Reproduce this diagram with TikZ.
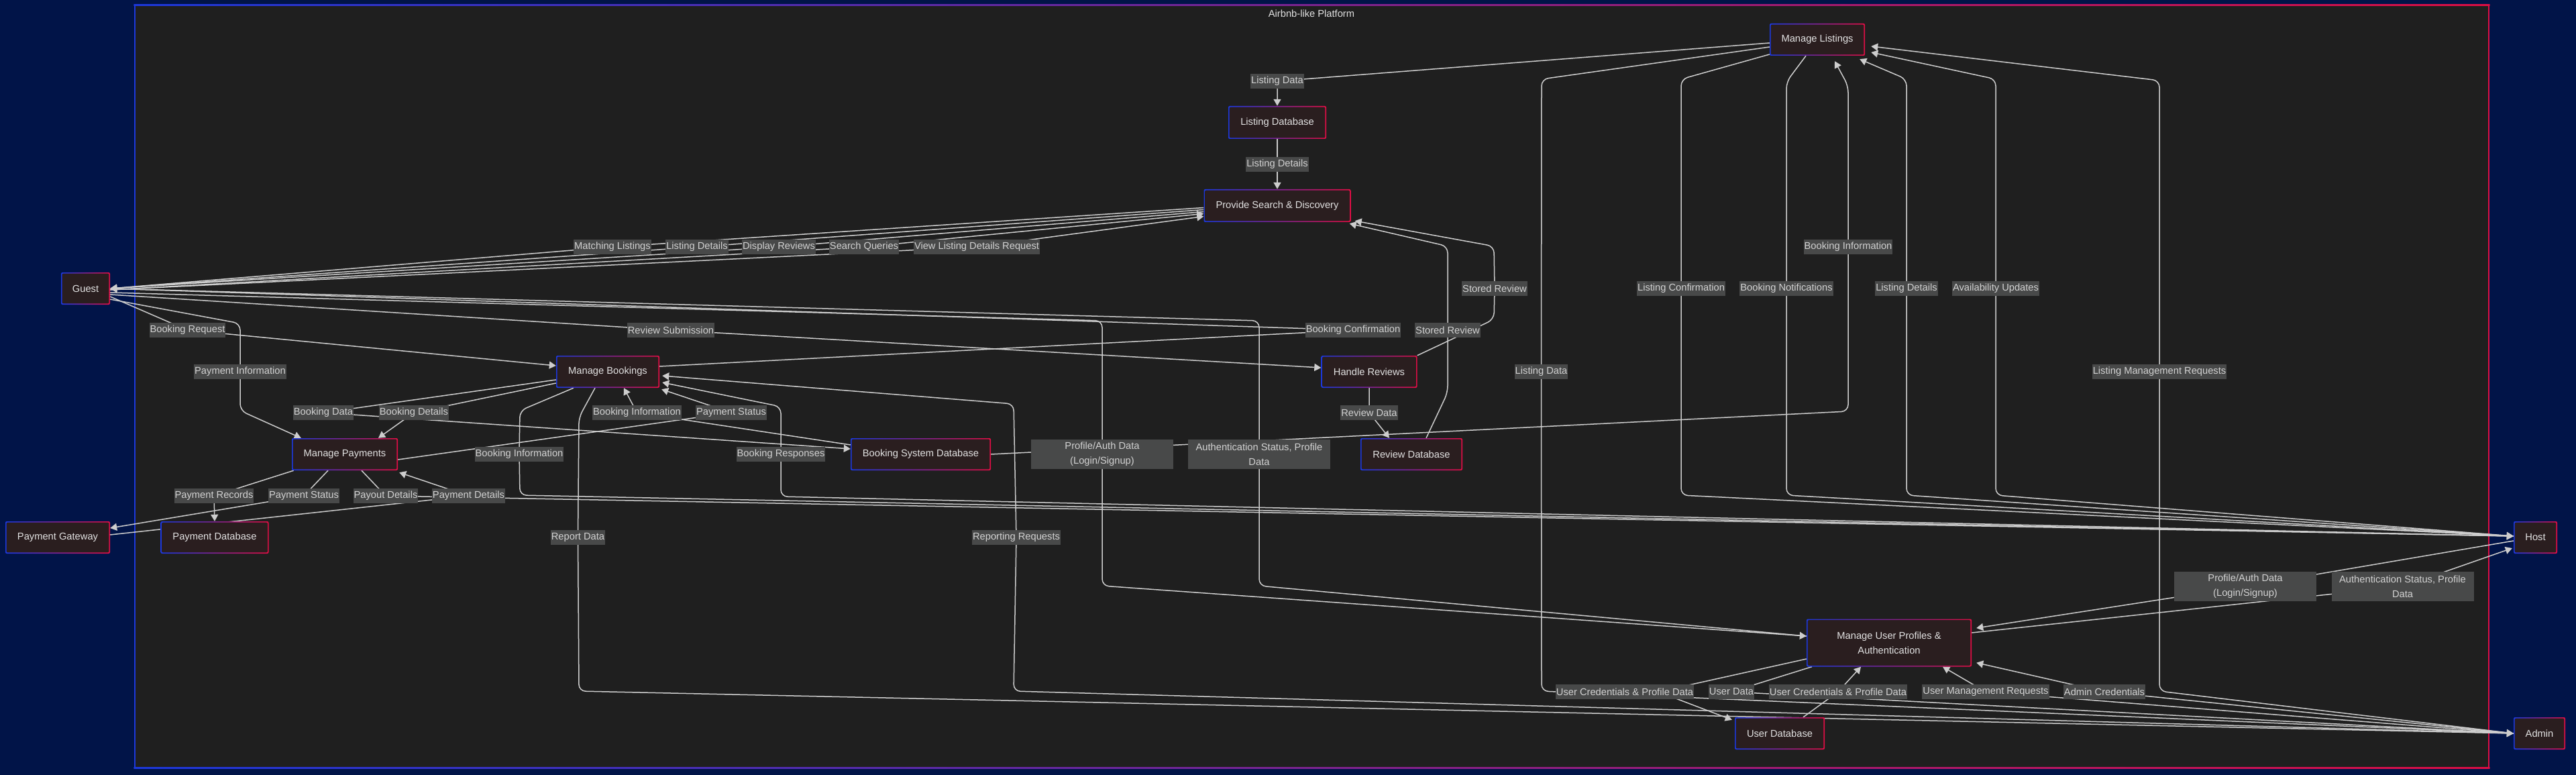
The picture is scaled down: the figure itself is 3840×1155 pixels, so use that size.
\documentclass[tikz,border=0pt]{standalone}
\usepackage{fontspec}
\setmainfont{Liberation Sans}
\usetikzlibrary{arrows.meta,calc}
\definecolor{navy}{RGB}{1,20,72}
\definecolor{clusterfill}{RGB}{31,31,31}
\definecolor{nodefill}{RGB}{42,30,31}
\definecolor{lblfill}{RGB}{72,73,73}
\definecolor{lbltext}{RGB}{210,210,210}
\definecolor{nodetext}{RGB}{226,226,226}
\definecolor{edgec}{RGB}{205,205,205}
\definecolor{nblue}{RGB}{28,56,220}
\definecolor{nred}{RGB}{222,14,68}
\pgfdeclarelayer{bg}
\pgfdeclarelayer{edges}
\pgfsetlayers{bg,edges,main}
\begin{document}
\begin{tikzpicture}[x=1pt,y=-1pt,
  every node/.style={font=\fontsize{14.7}{22}\selectfont},
  proc/.style={rounded corners=2pt, inner sep=0pt, align=center, text=nodetext,
    path picture={
      \shade[left color=nblue, right color=nred] (path picture bounding box.south west) rectangle (path picture bounding box.north east);
      \fill[nodefill] ([shift={(1.6pt,1.6pt)}]path picture bounding box.south west) rectangle ([shift={(-1.6pt,-1.6pt)}]path picture bounding box.north east);
    }},
  lbl/.style={fill=lblfill, text=lbltext, inner xsep=1pt, inner ysep=0pt, minimum height=22pt},
  lbltwo/.style={lbl, align=center, minimum width=212pt, minimum height=44pt},
  flow/.style={draw=edgec, line width=1.5pt, rounded corners=10pt, -{Triangle[length=10pt,width=11pt]}}
]
\useasboundingbox (0,0) rectangle (3840,1155);
\begin{pgfonlayer}{bg}
  \fill[navy] (0,0) rectangle (3840,1155);
  \node[fill=clusterfill, inner sep=0pt, minimum width=3509pt, minimum height=1136pt] (cluster) at (1955.5,576) {};
  \shade[left color=nblue, right color=nred] ($(cluster.north west)+(-1.2,-1.2)$) rectangle ($(cluster.north east)+(1.2,1.2)$);
  \shade[left color=nblue, right color=nred] ($(cluster.south west)+(-1.2,-1.2)$) rectangle ($(cluster.south east)+(1.2,1.2)$);
  \fill[nblue] ($(cluster.north west)+(-1.2,0)$) rectangle ($(cluster.south west)+(1.2,0)$);
  \fill[nred] ($(cluster.north east)+(-1.2,0)$) rectangle ($(cluster.south east)+(1.2,0)$);
\end{pgfonlayer}
\node[text=nodetext] (title) at (1955,20) {Airbnb-like Platform};

% process / store / external nodes
\node[proc, minimum width=73pt, minimum height=48pt] (guest) at (127.5,430) {Guest};
\node[proc, minimum width=156pt, minimum height=48pt] (pg) at (86,801) {Payment Gateway};
\node[proc, minimum width=161pt, minimum height=48pt] (pdb) at (320,801) {Payment Database};
\node[proc, minimum width=158pt, minimum height=48pt] (mp) at (514,677) {Manage Payments};
\node[proc, minimum width=154pt, minimum height=48pt] (mb) at (906,554) {Manage Bookings};
\node[proc, minimum width=209pt, minimum height=48pt] (bsd) at (1372.5,677) {Booking System Database};
\node[proc, minimum width=146pt, minimum height=49pt] (ldb) at (1904,182.5) {Listing Database};
\node[proc, minimum width=219pt, minimum height=49pt] (sd) at (1904,306.5) {Provide Search \& Discovery};
\node[proc, minimum width=143pt, minimum height=48pt] (hr) at (2041,554) {Handle Reviews};
\node[proc, minimum width=152pt, minimum height=48pt] (rdb) at (2104,677) {Review Database};
\node[proc, minimum width=142pt, minimum height=48pt] (ml) at (2709,59) {Manage Listings};
\node[proc, minimum width=246pt, minimum height=71pt] (mup) at (2816,958) {Manage User Profiles \&\\Authentication};
\node[proc, minimum width=134pt, minimum height=48pt] (udb) at (2653,1093) {User Database};
\node[proc, minimum width=65pt, minimum height=48pt] (host) at (3779.5,801) {Host};
\node[proc, minimum width=77pt, minimum height=48pt] (admin) at (3785.5,1093) {Admin};

% edge labels
\node[lbl] (lld1) at (1904,121) {Listing Data};
\node[lbl] (llde) at (1904,245) {Listing Details};
\node[lbl] (lml) at (913,368) {Matching Listings};
\node[lbl] (lldg) at (1039,368) {Listing Details};
\node[lbl] (ldr) at (1161,368) {Display Reviews};
\node[lbl] (lsq) at (1288,368) {Search Queries};
\node[lbl] (lvl) at (1456,368) {View Listing Details Request};
\node[lbl] (lbreq) at (279.5,492) {Booking Request};
\node[lbl] (lrs) at (1000,492) {Review Submission};
\node[lbl] (lbc) at (2017,492) {Booking Confirmation};
\node[lbl] (lsr2) at (2158,492) {Stored Review};
\node[lbl] (lsr1) at (2228,430) {Stored Review};
\node[lbl] (llc) at (2506,430) {Listing Confirmation};
\node[lbl] (lbn) at (2663,430) {Booking Notifications};
\node[lbl] (lldh) at (2842,430) {Listing Details};
\node[lbl] (lau) at (2975,430) {Availability Updates};
\node[lbl] (lbi1) at (2755,368) {Booking Information};
\node[lbl] (lpi) at (358,554) {Payment Information};
\node[lbl] (lld2) at (2297.5,554) {Listing Data};
\node[lbl] (llmr) at (3219,554) {Listing Management Requests};
\node[lbl] (lbd) at (482,615) {Booking Data};
\node[lbl] (lbdt) at (617,615) {Booking Details};
\node[lbl] (lbi2) at (949.5,615) {Booking Information};
\node[lbl] (lps1) at (1090,615) {Payment Status};
\node[lbl] (lrd) at (2041,615) {Review Data};
\node[lbl] (lbi3) at (774,677) {Booking Information};
\node[lbl] (lbresp) at (1164,677) {Booking Responses};
\node[lbltwo] (lpa1) at (1643,677) {Profile/Auth Data\\(Login/Signup)};
\node[lbltwo] (las1) at (1877,677) {Authentication Status, Profile\\Data};
\node[lbl] (lpr) at (319,739) {Payment Records};
\node[lbl] (lps2) at (453,739) {Payment Status};
\node[lbl] (lpo) at (575,739) {Payout Details};
\node[lbl] (lpd) at (698.5,739) {Payment Details};
\node[lbl] (lrpd) at (861.5,801) {Report Data};
\node[lbl] (lrr) at (1515,801) {Reporting Requests};
\node[lbltwo] (lpa2) at (3347,874) {Profile/Auth Data\\(Login/Signup)};
\node[lbltwo] (las2) at (3581.5,874) {Authentication Status, Profile\\Data};
\node[lbl] (luc1) at (2422,1031) {User Credentials \& Profile Data};
\node[lbl] (lud) at (2581,1031) {User Data};
\node[lbl] (luc2) at (2740,1031) {User Credentials \& Profile Data};
\node[lbl] (lumr) at (2960,1031) {User Management Requests};
\node[lbl] (lac) at (3137,1031) {Admin Credentials};

\begin{pgfonlayer}{edges}
% listings
\draw[flow] ($(ml.west)+(0,5)$) -- (lld1.center) -- (ldb.north);
\draw[flow] (ldb.south) -- (llde.center) -- (sd.north);
% search <-> guest
\draw[flow] ($(sd.west)+(0,3)$) -- (lml.center) -- (guest.east);
\draw[flow] ($(sd.west)+(0,6)$) -- (lldg.center) -- (guest.east);
\draw[flow] ($(sd.west)+(0,9)$) -- (ldr.center) -- (guest.east);
\draw[flow] ($(guest.east)+(0,2)$) -- (lsq.center) -- ($(sd.west)+(0,12)$);
\draw[flow] ($(guest.east)+(0,2)$) -- (lvl.center) -- ($(sd.west)+(0,16)$);
% guest outgoing
\draw[flow] ($(guest.east)+(0,12)$) -- (lbreq.center) -- ($(mb.west)+(0,-9)$);
\draw[flow] ($(guest.east)+(0,16)$) -- (358,482) -- (358,612) -- ($(mp.north west)+(14,0)$);
\draw[flow] ($(guest.east)+(0,9)$) -- (lrs.center) -- ($(hr.west)+(0,-6)$);
\draw[flow] ($(mb.east)+(0,-8)$) -- (lbc.center) -- (guest.east);
\draw[flow] ($(guest.east)+(0,6)$) -- (1643,478) -- (lpa1.center) -- (1643,873) -- ($(mup.west)+(0,-10)$);
\draw[flow] ($(mup.west)+(0,-10)$) -- (1877,873) -- (las1.center) -- (1877,478) -- (guest.east);
% bookings
\draw[flow] ($(mb.west)+(0,12)$) -- (lbd.center) -- ($(bsd.west)+(0,-8)$);
\draw[flow] ($(mb.west)+(0,17)$) -- (lbdt.center) -- ($(mp.north)+(50,0)$);
\draw[flow] ($(mp.east)+(0,8)$) -- (lps1.center) -- ($(mb.south east)+(3,2)$);
\draw[flow] ($(bsd.west)+(0,-14)$) -- (lbi2.center) -- ($(mb.south)+(24,0)$);
\draw[flow] ($(mb.south)+(-51,0)$) -- (775,612) -- (lbi3.center) -- (775,738) -- ($(host.west)+(0,-2)$);
\draw[flow] ($(host.west)+(0,-2)$) -- (1164,740) -- (lbresp.center) -- (1164,606) -- ($(mb.east)+(4,16)$);
\draw[flow] ($(mb.south)+(-19,0)$) -- (863,622) -- (lrpd.center) -- (863,1030) -- (admin.west);
\draw[flow] (admin.west) -- (1511,1030) -- (lrr.center) -- (1511,602) -- ($(mb.east)+(4,6)$);
% payments
\draw[flow] ($(mp.south west)+(3,0)$) -- (lpr.center) -- (pdb.north);
\draw[flow] ($(mp.south)+(-25,0)$) -- (lps2.center) -- ($(pg.east)+(0,-14)$);
\draw[flow] ($(pg.east)+(0,-4)$) -- (lpd.center) -- ($(mp.south east)+(2,3)$);
\draw[flow] ($(mp.south)+(25,0)$) -- (lpo.center) -- ($(host.west)+(0,-2)$);
% listings <-> host / admin
\draw[flow] ($(ml.west)+(0,22)$) -- (2506,118) -- (llc.center) -- (2506,738) -- ($(host.west)+(0,-2)$);
\draw[flow] ($(ml.south)+(-17,0)$) -- (2663,122) -- (lbn.center) -- (2663,738) -- ($(host.west)+(0,-2)$);
\draw[flow] (bsd.east) -- (2755,613) -- (lbi1.center) -- (2755,128) -- ($(ml.south)+(26,8)$);
\draw[flow] ($(host.west)+(0,-2)$) -- (2842,738) -- (lldh.center) -- (2842,118) -- ($(ml.south east)+(-8,5)$);
\draw[flow] ($(host.west)+(0,-2)$) -- (2975,738) -- (lau.center) -- (2975,118) -- ($(ml.east)+(9,19)$);
\draw[flow] (admin.west) -- (3219,1030) -- (llmr.center) -- (3219,120) -- ($(ml.east)+(9,10)$);
\draw[flow] ($(ml.west)+(0,11)$) -- (2298,118) -- (lld2.center) -- (2298,1030) -- (admin.west);
% user profiles
\draw[flow] ($(host.west)+(0,5)$) -- (lpa2.center) -- ($(mup.east)+(7,-22)$);
\draw[flow] ($(mup.east)+(0,-15)$) -- (las2.center) -- ($(host.west)+(-2,16)$);
\draw[flow] ($(mup.west)+(0,24)$) -- ($(luc1.center)+(50,0)$) -- ($(udb.north west)+(-4,4)$);
\draw[flow] ($(udb.north)+(35,0)$) -- (luc2.center) -- ($(mup.south)+(-42,0)$);
\draw[flow] ($(mup.south west)+(8,0)$) -- (lud.center) -- (admin.west);
\draw[flow] (admin.west) -- (lumr.center) -- ($(mup.south)+(80,0)$);
\draw[flow] (admin.west) -- (lac.center) -- ($(mup.south east)+(7,-6)$);
% reviews
\draw[flow] (hr.south) -- (lrd.center) -- ($(rdb.north)+(-33,0)$);
\draw[flow] (hr.north east) -- (2227,476) -- (lsr1.center) -- (2227,367) -- ($(sd.south east)+(6,-2)$);
\draw[flow] ($(rdb.north)+(22,0)$) -- (2158,585) -- (lsr2.center) -- (2158,367) -- ($(sd.south east)+(-2,2)$);
\end{pgfonlayer}
\end{tikzpicture}
\end{document}
